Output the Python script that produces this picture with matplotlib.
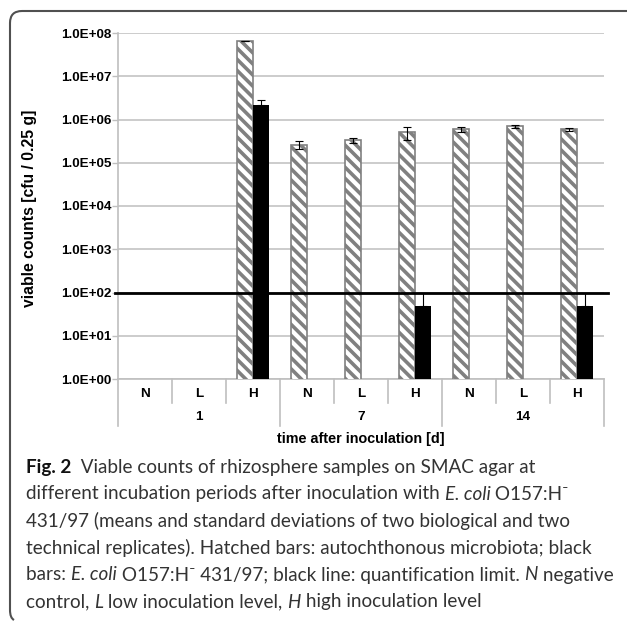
import numpy as np
import matplotlib
matplotlib.use('Agg')
import matplotlib.pyplot as plt
from matplotlib.path import Path
from matplotlib.patches import PathPatch
from matplotlib.ticker import FuncFormatter

# data
levels = ['N', 'L', 'H', 'N', 'L', 'H', 'N', 'L', 'H']
days = ['1', '7', '14']
hatched = [np.nan, np.nan, 6.5e7, 2.6e5, 3.3e5, 5.1e5, 5.9e5, 7.0e5, 5.9e5]
hatched_err = [0, 0, 0, 0.5e5, 0.5e5, 1.7e5, 0.8e5, 0.5e5, 0.6e5]
black = [np.nan, np.nan, 2.2e6, np.nan, np.nan, 48, np.nan, np.nan, 48]
black_err = [0, 0, 0.6e6, 0, 0, 52, 0, 0, 52]
limit = 1e2

W, H = 627, 622
plt.rcParams['hatch.color'] = '#8c8c8c'
plt.rcParams['hatch.linewidth'] = 2.6
lab_font = 'Liberation Sans'
lab_size = 9.7

fig = plt.figure(figsize=(W / 100, H / 100), dpi=100)
ax = fig.add_axes([118 / W, 1 - 379 / H, 486 / W, 346 / H])
ax.set_yscale('log')

x = np.arange(len(levels))
bw = 0.29
ax.bar(x - bw / 2, hatched, bw, facecolor='white', edgecolor='#808080',
       hatch='\\\\\\', linewidth=1.2, zorder=3)
ax.errorbar(x - bw / 2, hatched, yerr=hatched_err, fmt='none', ecolor='black',
            elinewidth=0.8, capsize=3, capthick=0.8, zorder=4)
ax.bar(x + bw / 2, black, bw, color='black', zorder=3)
ax.errorbar(x + bw / 2, black, yerr=[np.zeros(len(black)), black_err], fmt='none',
            ecolor='black', elinewidth=0.8, capsize=3, capthick=0.8, zorder=4)

ax.axhline(limit, xmin=-0.006, xmax=1.008, color='black', lw=2, zorder=5, clip_on=False)

ax.set_xlim(-0.5, len(levels) - 0.5)
ax.set_ylim(1, 1e8)
ax.set_yticks([10.0 ** k for k in range(9)])
ax.yaxis.set_minor_locator(plt.NullLocator())
ax.yaxis.set_major_formatter(FuncFormatter(lambda v, p: f'{v:.1E}'))
for lbl in ax.get_yticklabels():
    lbl.set_fontweight('bold')
    lbl.set_fontfamily(lab_font)
    lbl.set_fontsize(lab_size)
ax.tick_params(axis='y', length=4, color='#bfbfbf', width=1, pad=0.8)
ax.set_xticks([])
ax.grid(axis='y', color='#bfbfbf', lw=1.1, zorder=0)
for s in ['top', 'right']:
    ax.spines[s].set_visible(False)
ax.spines['left'].set_color('#bfbfbf')
ax.spines['bottom'].set_color('#bfbfbf')
ax.spines['left'].set_linewidth(1.2)
ax.spines['bottom'].set_linewidth(1.2)

# multi level category axis
tr = ax.get_xaxis_transform()
for i in range(len(levels) + 1):
    xb = i - 0.5
    depth = -0.136 if i % 3 == 0 else -0.069
    ax.plot([xb, xb], [0, depth], transform=tr, color='#bfbfbf', lw=1.2, clip_on=False)
for i, l in enumerate(levels):
    ax.text(i, -0.042, l, transform=tr, ha='center', va='center', fontsize=lab_size,
            fontweight='bold', family=lab_font)
for j, d in enumerate(days):
    ax.text(3 * j + 1, -0.110, d, transform=tr, ha='center', va='center', fontsize=lab_size,
            fontweight='bold', family=lab_font)
ax.text(0.5, -0.174, 'time after inoculation [d]', transform=ax.transAxes, ha='center',
        va='center', fontsize=10.4, fontweight='bold', family=lab_font)
fig.text(30 / W, 1 - 208 / H, 'viable counts [cfu / 0.25 g]', rotation=90, ha='center',
         va='center', fontsize=11.3, fontweight='bold', family=lab_font)

# frame with rounded corner
frame = Path([(627, 11), (22, 11), (10, 11), (10, 23), (10, 610), (10, 618), (14, 620)],
             [Path.MOVETO, Path.LINETO, Path.CURVE3, Path.CURVE3, Path.LINETO,
              Path.CURVE3, Path.CURVE3])
frame = Path([(px / W, 1 - py / H) for px, py in frame.vertices], frame.codes)
fig.patches.append(PathPatch(frame, transform=fig.transFigure, fill=False,
                             edgecolor='#505050', lw=1.5))

# caption
cap_font = ['Lato', 'DejaVu Sans']
cap_size = 13.6
cap_lines = [
    [('Fig. 2', 'bold', 'normal'), ('  Viable counts of rhizosphere samples on SMAC agar at', 'normal', 'normal')],
    [('different incubation periods after inoculation with ', 'normal', 'normal'),
     ('E. coli', 'normal', 'italic'), (' O157:H\u207b', 'normal', 'normal')],
    [('431/97 (means and standard deviations of two biological and two', 'normal', 'normal')],
    [('technical replicates). Hatched bars: autochthonous microbiota; black', 'normal', 'normal')],
    [('bars: ', 'normal', 'normal'), ('E. coli', 'normal', 'italic'),
     (' O157:H\u207b 431/97; black line: quantification limit. ', 'normal', 'normal'),
     ('N', 'normal', 'italic'), (' negative', 'normal', 'normal')],
    [('control, ', 'normal', 'normal'), ('L', 'normal', 'italic'),
     (' low inoculation level, ', 'normal', 'normal'), ('H', 'normal', 'italic'),
     (' high inoculation level', 'normal', 'normal')],
]
for k, parts in enumerate(cap_lines):
    y = 1 - (467 + 27 * k) / H
    last = None
    for s, wt, st in parts:
        col = '#111111' if wt == 'bold' else '#333333'
        if last is None:
            last = fig.text(26 / W, y, s, ha='left', va='center', fontsize=cap_size,
                            fontweight=wt, fontstyle=st, family=cap_font, color=col)
        else:
            last = ax.annotate(s, xy=(1, 0), xycoords=last, ha='left', va='bottom',
                               fontsize=cap_size, fontweight=wt, fontstyle=st,
                               family=cap_font, color=col, annotation_clip=False)

fig.savefig('out.png', dpi=100)
